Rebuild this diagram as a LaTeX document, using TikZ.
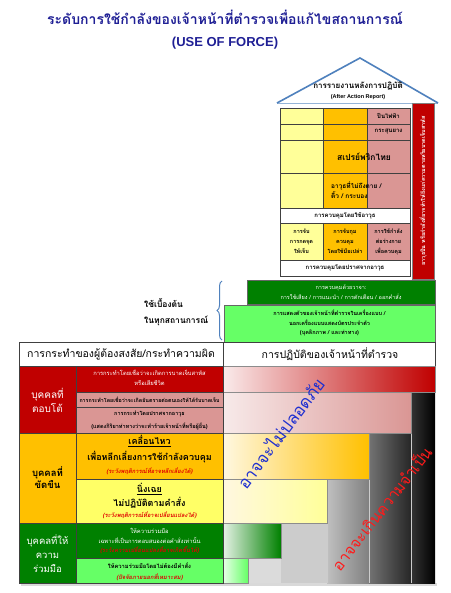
\documentclass[tikz,border=0pt]{standalone}
\usepackage{fontspec}
\setmainfont{Liberation Sans}
\newfontfamily\thai[Script=Thai,ItalicFont={Loma Oblique},BoldItalicFont={Loma Bold Oblique}]{Loma}
\usetikzlibrary{decorations.pathreplacing}
\definecolor{titleblue}{HTML}{1F1F95}
\definecolor{roofblue}{HTML}{4F81BD}
\definecolor{forcered}{HTML}{C00000}
\definecolor{forcepink}{HTML}{DA9694}
\definecolor{forceamber}{HTML}{FFC000}
\definecolor{paleyellow}{HTML}{FFFF99}
\definecolor{brightyellow}{HTML}{FFFF66}
\definecolor{forcegreen}{HTML}{008000}
\definecolor{lightgreen}{HTML}{66FF66}
\definecolor{warnred}{HTML}{E00000}
\definecolor{diagblue}{HTML}{1F2FD0}
\definecolor{diagred}{HTML}{FF1A1A}
\newcommand\fs[2]{\fontsize{#1}{#2}\selectfont}

\begin{document}
\begin{tikzpicture}[x=1pt,y=-1pt,
    cell/.style={draw=black!75,line width=0.7pt},
    bar/.style={draw=black!45,line width=0.5pt},
    lbl/.style={inner sep=0pt,align=center},
    warn/.style={lbl,text=warnred,font=\thai\bfseries\itshape\fs{5.8}{7}}]
  \useasboundingbox (0,0) rectangle (450,593);
  \fill[white] (0,0) rectangle (450,593);
  % ชื่อเรื่อง
  \node[lbl,font=\thai\bfseries\fs{14}{16},text=titleblue] (title) at (225,17) {ระดับการใช้กำลังของเจ้าหน้าที่ตำรวจเพื่อแก้ไขสถานการณ์};
  \node[lbl,font=\bfseries\fs{13}{15},text=titleblue] (title-en) at (225,43) {(USE OF FORCE)};
  % หลังคา
  \draw[roofblue!60,line width=0.6pt] (277,103) -- (438,103);
  \draw[roofblue,line width=1.6pt] (277,103) -- (360,58) -- (438,103);
  \node[lbl,font=\thai\bfseries\fs{8}{9}] (aar) at (358,86) {การรายงานหลังการปฏิบัติ};
  \node[lbl,font=\bfseries\fs{5.5}{6}] (aar-en) at (358,97.5) {(After Action Report)};
  % ตารางอาวุธ
  \fill[paleyellow] (280,108) rectangle (323,208);
  \fill[forceamber] (323,108) rectangle (367,208);
  \fill[forcepink] (367,108) rectangle (410,208);
  \fill[paleyellow] (280,223) rectangle (323,260);
  \fill[forceamber] (323,223) rectangle (367,260);
  \fill[forcepink] (367,223) rectangle (410,260);
  \foreach \y in {124,140,173,208,223,260}
    \draw[cell] (280,\y) -- (410,\y);
  \foreach \x in {323,367}
    {\draw[cell] (\x,108) -- (\x,208); \draw[cell] (\x,223) -- (\x,260);}
  \draw[cell] (280,108) rectangle (410,276);
  \node[lbl,font=\thai\bfseries\fs{6}{7}] (taser) at (388.5,116) {ปืนไฟฟ้า};
  \node[lbl,font=\thai\bfseries\fs{6}{7}] (rubber) at (388.5,132) {กระสุนยาง};
  \node[lbl,font=\thai\bfseries\fs{8.5}{10}] (spray) at (364,157) {สเปรย์พริกไทย};
  \node[lbl,font=\thai\bfseries\fs{6.5}{10},anchor=west,align=left] (baton) at (331,190) {อาวุธที่ไม่ถึงตาย /\\ติ้ว / กระบอง};
  \node[lbl,font=\thai\bfseries\fs{6}{7}] (armed) at (345,215.5) {การควบคุมโดยใช้อาวุธ};
  \node[lbl,font=\thai\bfseries\fs{5.5}{10}] (hold) at (301.5,241.5) {การจับ\\การกดจุด\\ให้เจ็บ};
  \node[lbl,font=\thai\bfseries\fs{5.5}{10}] (hands) at (345,241.5) {การจับกุม\\ควบคุม\\โดยใช้มือเปล่า};
  \node[lbl,font=\thai\bfseries\fs{5.5}{10}] (body) at (388.5,241.5) {การใช้กำลัง\\ต่อร่างกาย\\เพื่อควบคุม};
  \node[lbl,font=\thai\bfseries\fs{6}{7}] (unarmed) at (345,268) {การควบคุมโดยปราศจากอาวุธ};
  % แถบอาวุธปืน
  \fill[forcered,draw=black!50] (412,103) rectangle (434,279);
  \node[lbl,rotate=90,text=white,font=\thai\bfseries\fs{5.5}{6}] (deadly) at (423,191) {อาวุธปืน หรือกำลังที่อาจทำให้ถึงแก่ความตายหรือบาดเจ็บสาหัส};
  % ใช้ในทุกสถานการณ์
  \fill[forcegreen,draw=black!60] (247,280) rectangle (435,304);
  \node[lbl,text=white,font=\thai\fs{5.5}{10}] (verbal) at (341,292) {การควบคุมด้วยวาจา:\\การใช้เสียง / การแนะนำ / การตักเตือน / ออกคำสั่ง};
  \fill[lightgreen,draw=black!60] (224,305) rectangle (435,342);
  \node[lbl,font=\thai\bfseries\fs{5.5}{9.5}] (presence) at (329.5,323) {การแสดงตัวของเจ้าหน้าที่ตำรวจในเครื่องแบบ /\\นอกเครื่องแบบแสดงบัตรประจำตัว\\(บุคลิกภาพ / และท่าทาง)};
  \draw[roofblue,line width=1pt,decorate,decoration={brace,amplitude=5pt}] (222,340) -- (222,281);
  \node[lbl,font=\thai\bfseries\fs{8.5}{16},anchor=west,align=left] (basic) at (144,312) {ใช้เบื้องต้น\\ในทุกสถานการณ์};
  % ส่วนหัวตาราง
  \fill[black!15] (21,583) rectangle (437,586);
  \draw[cell,fill=white] (19,342) rectangle (223,366);
  \draw[cell,fill=white] (223,342) rectangle (435,366);
  \node[lbl,font=\thai\fs{10.5}{12}] (suspect) at (121,354) {การกระทำของผู้ต้องสงสัย/กระทำความผิด};
  \node[lbl,font=\thai\fs{10.5}{12}] (officer) at (330,354) {การปฏิบัติของเจ้าหน้าที่ตำรวจ};
  % พื้นสีเทา
  \fill[black!14] (248,558) rectangle (281,583);
  \fill[black!20] (281,523) rectangle (327,583);
  \shade[left color=black!25,right color=black!50] (327,479) rectangle (369,583);
  \shade[left color=black!55,right color=black!85] (369,433) rectangle (411,583);
  \shade[left color=black!80,right color=black] (411,392) rectangle (435,583);
  \foreach \x/\y in {281/523,327/479,369/433,411/392}
    \draw[white!80!black,line width=0.7pt] (\x,\y) -- (\x,583);
  % แถบสีไล่ระดับ
  \shade[bar,left color=forcered!8,right color=forcered] (223,366) rectangle (435,392);
  \shade[bar,left color=forcepink!20,right color=forcepink] (223,392) rectangle (411,433);
  \shade[bar,left color=forceamber!12,right color=forceamber] (223,433) rectangle (369,479);
  \shade[bar,left color=forceamber!12,right color=paleyellow] (223,479) rectangle (327,523);
  \shade[bar,left color=forcegreen!10,right color=forcegreen] (223,523) rectangle (281,558);
  \shade[bar,left color=lightgreen!15,right color=lightgreen] (223,558) rectangle (248,583);
  % การกระทำของผู้ต้องสงสัย
  \fill[forcered] (19,366) rectangle (223,392);
  \fill[forcered] (19,392) rectangle (76,433);
  \fill[forcepink] (76,392) rectangle (223,433);
  \fill[forceamber] (19,433) rectangle (223,479);
  \fill[forceamber] (19,479) rectangle (76,523);
  \fill[brightyellow] (76,479) rectangle (223,523);
  \fill[forcegreen] (19,523) rectangle (223,558);
  \fill[forcegreen] (19,558) rectangle (76,583);
  \fill[lightgreen] (76,558) rectangle (223,583);
  \foreach \t/\b in {366/392,392/407,407/433,433/479,479/523,523/558,558/583}
    \draw[cell] (76,\t) rectangle (223,\b);
  \foreach \t/\b in {366/433,433/523,523/583}
    \draw[cell] (19,\t) rectangle (76,\b);
  \draw[cell] (223,342) -- (223,583);
  \node[lbl,text=white,font=\thai\fs{10}{14}] (resist) at (47.5,400) {บุคคลที่\\ตอบโต้};
  \node[lbl,font=\thai\bfseries\fs{9.5}{12}] (defy) at (47.5,478) {บุคคลที่\\ขัดขืน};
  \node[lbl,text=white,font=\thai\fs{9.5}{14}] (comply) at (47.5,554) {บุคคลที่ให้\\ความ\\ร่วมมือ};
  \node[lbl,text=white,font=\thai\fs{5.8}{10}] (lethal) at (149.5,378) {การกระทำโดยเชื่อว่าจะเกิดการบาดเจ็บสาหัส\\หรือเสียชีวิต};
  \node[lbl,font=\thai\bfseries\fs{5.3}{7}] (harm) at (149.5,399.5) {การกระทำโดยเชื่อว่าจะเกิดอันตรายต่อตนเองให้ได้รับบาดเจ็บ};
  \node[lbl,font=\thai\bfseries\fs{5.5}{13}] (assault) at (149.5,420) {การกระทำโดยปราศจากอาวุธ\\(แสดงกิริยาท่าทางว่าจะทำร้ายเจ้าหน้าที่หรือผู้อื่น)};
  \node[lbl,font=\thai\bfseries\fs{9}{10}] (move) at (149.5,441) {\underline{เคลื่อนไหว}};
  \node[lbl,font=\thai\bfseries\fs{9}{10}] (avoid) at (149.5,457) {เพื่อหลีกเลี่ยงการใช้กำลังควบคุม};
  \node[warn] (avoid-note) at (149.5,471) {(ระวังพฤติการณ์ที่อาจหลีกเลี่ยงได้)};
  \node[lbl,font=\thai\bfseries\fs{9}{10}] (still) at (149.5,489) {\underline{นิ่งเฉย}};
  \node[lbl,font=\thai\bfseries\fs{9}{10}] (ignore) at (149.5,503) {ไม่ปฏิบัติตามคำสั่ง};
  \node[warn] (ignore-note) at (149.5,515.5) {(ระวังพฤติการณ์ที่อาจเปลี่ยนแปลงได้)};
  \node[lbl,text=white,font=\thai\fs{5.8}{10}] (follow) at (149.5,536) {ให้ความร่วมมือ\\เฉพาะที่เป็นการตอบสนองต่อคำสั่งเท่านั้น};
  \node[warn] (follow-note) at (149.5,550) {(ระวังความเปลี่ยนแปลงที่อาจเกิดขึ้นได้)};
  \node[lbl,font=\thai\bfseries\fs{5.8}{7}] (willing) at (149.5,566) {ให้ความร่วมมือโดยไม่ต้องมีคำสั่ง};
  \node[warn] (willing-note) at (149.5,577) {(ปัจจัยภายนอกที่เหมาะสม)};
  % ข้อความแนวเฉียง
  \node[lbl,rotate=53,text=diagblue,font=\thai\fs{17}{18}] (unsafe) at (280,433) {อาจจะไม่ปลอดภัย};
  \node[lbl,rotate=52,text=diagred,font=\thai\fs{15.5}{17}] (excess) at (381,508) {อาจจะเกินความจำเป็น};
\end{tikzpicture}
\end{document}
